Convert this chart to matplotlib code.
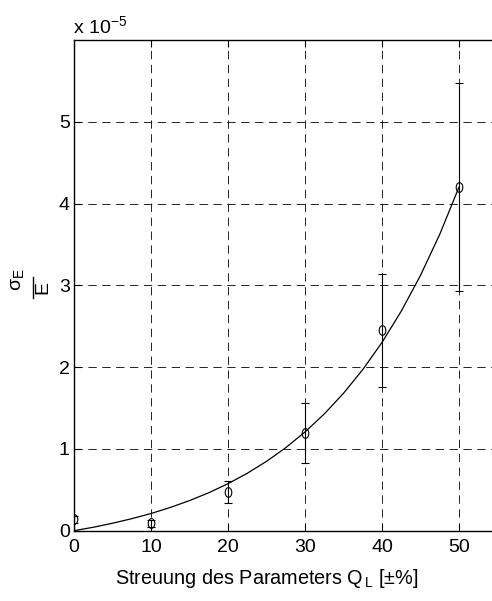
import numpy as np
import matplotlib
matplotlib.use("Agg")
import matplotlib.pyplot as plt
from matplotlib.path import Path
from matplotlib.lines import Line2D

plt.rcParams['font.family'] = ['Liberation Sans', 'DejaVu Sans']
plt.rcParams['mathtext.fontset'] = 'custom'
plt.rcParams['mathtext.rm'] = 'Liberation Sans'
plt.rcParams['mathtext.it'] = 'Liberation Sans'
plt.rcParams['mathtext.sf'] = 'Liberation Sans'
plt.rcParams['lines.scale_dashes'] = False

# data (units of 1e-5)
x_points = [0, 10, 20, 30, 40, 50]
y_points = [0.14, 0.09, 0.47, 1.195, 2.45, 4.20]
y_err = [0.04, 0.04, 0.135, 0.37, 0.69, 1.27]

curve_x = [0, 2.5, 5, 7.5, 10, 12.5, 15, 17.5, 20, 22.5, 25, 27.5, 30,
           32.5, 35, 37.5, 40, 42.5, 45, 47.5, 50]
curve_y = [0.0, 0.042, 0.091, 0.147, 0.210, 0.284, 0.368, 0.464, 0.575,
           0.702, 0.848, 1.015, 1.207, 1.427, 1.680, 1.970, 2.302, 2.684,
           3.122, 3.624, 4.201]

x_ticks = [0, 10, 20, 30, 40, 50]
y_ticks = [0, 1, 2, 3, 4, 5]

W, H = 492, 601

# oval marker (taller than wide)
circ = Path.unit_circle()
oval = Path(circ.vertices * np.array([0.68, 1.0]), circ.codes)

fig = plt.figure(figsize=(W / 100, H / 100), dpi=100)
ax = fig.add_axes([74 / W, 70.3 / H, 423.5 / W, 490.7 / H])

ax.plot(curve_x, curve_y, color='black', lw=0.9)
ax.errorbar(x_points, y_points, yerr=y_err, fmt='none', ecolor='black',
            elinewidth=0.8, capsize=3, capthick=0.8)
ax.plot(x_points, y_points, ls='none', marker=oval, ms=7, mfc='none',
        mec='black', mew=0.8)

ax.set_xlim(0, 55)
ax.set_ylim(0, 6)
ax.set_xticks(x_ticks)
ax.set_yticks(y_ticks)
ax.tick_params(direction='in', length=5, width=0.8, top=True, right=False,
               labelsize=14)
ax.tick_params(axis='x', pad=6)
ax.tick_params(axis='y', pad=3)
ax.grid(True, color='black', lw=0.6, ls=(0, (6, 4)))
for s in ax.spines.values():
    s.set_linewidth(1.0)
    s.set_color('black')
ax.spines['right'].set_visible(False)

ax.set_xlabel(r'Streuung des Parameters Q$_{\,\mathrm{L}}$ [±%]', fontsize=14.3)
ax.xaxis.set_label_coords((267 - 74) / 423.5, -(578 - 530.7) / 490.7)
ax.xaxis.label.set_va('center')

# y label: sigma_E / E as a rotated fraction
fig.text(18 / W, 1 - 280 / H, r'$\sigma_{\mathrm{E}}$', fontsize=14,
         rotation=90, ha='center', va='center')
fig.add_artist(Line2D([33 / W, 33 / W], [1 - 277 / H, 1 - 298 / H],
                      color='black', lw=1.0, transform=fig.transFigure))
fig.text(43 / W, 1 - 287 / H, 'E', fontsize=14, rotation=90,
         ha='center', va='center')

fig.text(73 / W, 1 - 33 / H, r'x 10$^{-5}$', fontsize=14,
         ha='left', va='baseline')

fig.savefig('out.png', dpi=100)
